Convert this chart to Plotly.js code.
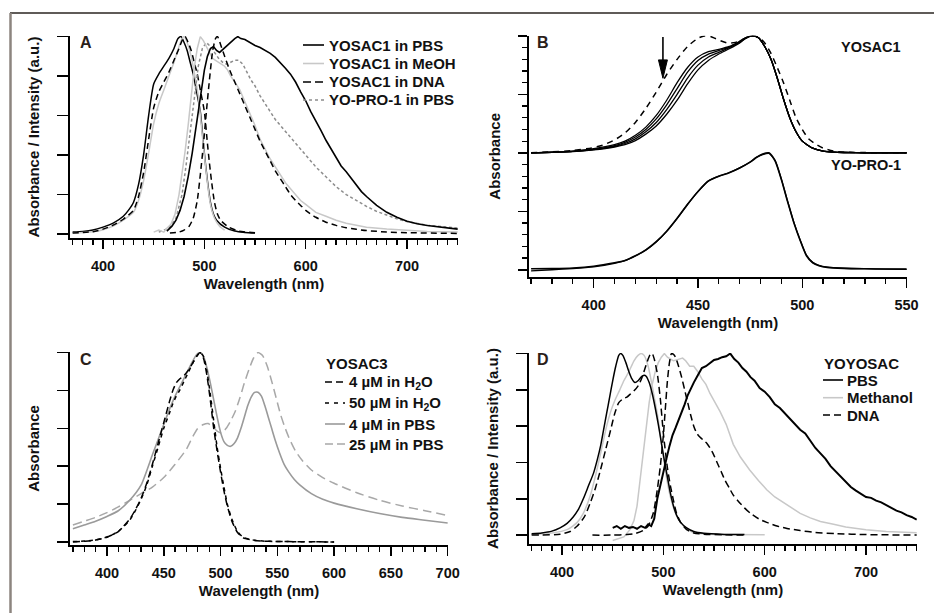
<!DOCTYPE html>
<html><head><meta charset="utf-8">
<script src="https://cdn.plot.ly/plotly-3.0.1.min.js"></script>
<style>html,body{margin:0;padding:0;background:#fff}#chart{width:934px;height:613px}</style>
</head><body><div id="chart"></div>
<script>
// ---------- Panel A ----------
const A_absPBS_wl = [370,380,390,400,410,420,425,430,435,440,445,450,455,460,465,470,474,477,480,483,486,489,492,496,499,501,503,506,509,512,520,530,540,550];
const A_absPBS    = [0.01,0.013,0.02,0.035,0.055,0.09,0.12,0.16,0.25,0.4,0.6,0.76,0.81,0.85,0.89,0.94,0.99,1.0,0.97,0.93,0.87,0.81,0.73,0.62,0.46,0.36,0.27,0.16,0.1,0.07,0.035,0.015,0.008,0.005];
const A_absMeOH_wl = [370,390,400,410,420,430,435,440,445,450,455,460,465,470,475,478,480,483,487,490,494,497,500,503,506,510,515,520];
const A_absMeOH    = [0.005,0.012,0.022,0.04,0.07,0.11,0.17,0.27,0.41,0.56,0.66,0.73,0.8,0.87,0.95,0.99,1.0,0.97,0.9,0.82,0.7,0.55,0.4,0.26,0.15,0.08,0.04,0.02];
const A_absDNA_wl = [370,390,400,410,420,430,435,440,445,450,455,460,465,470,475,478,481,484,487,490,493,496,500,503,505,507,510,513,516,524,534,550];
const A_absDNA    = [0.005,0.012,0.025,0.045,0.075,0.12,0.19,0.31,0.48,0.64,0.72,0.77,0.82,0.88,0.94,0.98,1.0,0.97,0.93,0.87,0.81,0.73,0.62,0.46,0.36,0.27,0.16,0.1,0.07,0.035,0.015,0.006];
const A_emPBS_wl = [463,468,472,476,480,484,488,492,496,500,503,506,509,512,515,518,521,524,527,530,533,536,540,545,550,555,560,565,570,575,580,585,590,595,600,605,610,615,620,625,630,635,640,645,650,655,660,665,670,680,690,700,710,720,730,740,750];
const A_emPBS    = [0.015,0.04,0.07,0.12,0.19,0.29,0.41,0.55,0.7,0.83,0.9,0.94,0.95,0.93,0.92,0.935,0.95,0.965,0.975,0.99,1.0,0.99,0.985,0.97,0.955,0.945,0.93,0.915,0.895,0.87,0.84,0.81,0.77,0.72,0.675,0.62,0.575,0.525,0.475,0.43,0.385,0.345,0.315,0.28,0.245,0.215,0.19,0.165,0.145,0.11,0.085,0.065,0.052,0.043,0.036,0.03,0.025];
const A_emMeOH_wl = [450,455,460,463,467,471,475,478,481,484,487,490,493,496,499,502,505,508,511,514,517,520,523,526,530,535,540,545,550,555,560,565,570,575,580,585,590,595,600,610,620,630,640,650,660,680,700,720,750];
const A_emMeOH    = [0.01,0.02,0.01,0.03,0.05,0.1,0.2,0.3,0.42,0.55,0.7,0.84,0.94,1.0,0.98,0.95,0.92,0.89,0.88,0.87,0.86,0.85,0.83,0.8,0.77,0.73,0.67,0.61,0.55,0.48,0.43,0.38,0.34,0.3,0.26,0.23,0.2,0.17,0.15,0.11,0.09,0.07,0.055,0.045,0.035,0.025,0.018,0.013,0.01];
const A_emDNA_wl = [466,475,480,485,489,493,496,499,502,505,508,511,513,516,520,525,530,535,540,545,550,555,560,565,570,575,580,585,590,595,600,610,620,630,640,650,660,680,700,750];
const A_emDNA    = [0.005,0.01,0.02,0.04,0.08,0.17,0.3,0.45,0.62,0.78,0.92,0.99,1.0,0.96,0.9,0.83,0.77,0.71,0.65,0.59,0.53,0.47,0.42,0.37,0.32,0.28,0.24,0.2,0.17,0.145,0.12,0.085,0.06,0.044,0.032,0.024,0.018,0.01,0.007,0.003];
const A_emYOPRO_wl = [455,465,472,478,482,486,490,494,498,502,506,510,514,518,522,526,530,534,538,542,546,550,555,560,565,570,575,580,585,590,595,600,605,610,620,630,640,650,660,670,680,690,700,720,740,750];
const A_emYOPRO    = [0.01,0.03,0.08,0.2,0.35,0.52,0.7,0.85,0.94,0.97,0.95,0.92,0.89,0.87,0.86,0.87,0.88,0.88,0.86,0.82,0.78,0.75,0.7,0.66,0.62,0.58,0.55,0.52,0.49,0.46,0.43,0.4,0.37,0.34,0.29,0.24,0.2,0.17,0.14,0.115,0.095,0.077,0.063,0.045,0.035,0.03];

// ---------- Panel B (YOSAC1 offset by +1, YO-PRO-1 from 0) ----------
const B_wl = [370,380,390,400,410,415,420,425,430,435,440,445,450,455,460,465,470,473,476,479,482,485,488,491,494,497,500,505,510,515,520,530,550];
const B_yosac1_s1 = [1.0,1.005,1.015,1.035,1.07,1.1,1.15,1.22,1.32,1.45,1.6,1.73,1.82,1.865,1.885,1.91,1.955,1.985,2.0,1.985,1.91,1.8,1.64,1.46,1.3,1.18,1.1,1.04,1.015,1.006,1.003,1.0,1.0];
const B_yosac1_s2 = [1.0,1.005,1.013,1.03,1.062,1.09,1.135,1.2,1.29,1.41,1.55,1.69,1.79,1.845,1.875,1.905,1.95,1.985,2.0,1.985,1.91,1.8,1.64,1.46,1.3,1.18,1.1,1.04,1.015,1.006,1.003,1.0,1.0];
const B_yosac1_s3 = [1.0,1.004,1.012,1.028,1.056,1.08,1.12,1.18,1.26,1.37,1.5,1.64,1.75,1.82,1.86,1.9,1.945,1.98,2.0,1.985,1.91,1.8,1.64,1.46,1.3,1.18,1.1,1.04,1.015,1.006,1.003,1.0,1.0];
const B_yosac1_s4 = [1.0,1.004,1.01,1.025,1.05,1.07,1.105,1.16,1.23,1.33,1.45,1.59,1.71,1.79,1.845,1.89,1.94,1.98,2.0,1.985,1.91,1.8,1.64,1.46,1.3,1.18,1.1,1.04,1.015,1.006,1.003,1.0,1.0];
const B_dash_wl = [370,380,390,400,405,410,415,420,425,430,435,440,445,450,453,456,460,464,468,472,476,479,482,485,488,491,494,497,500,503,506,510,515,520,530,550];
const B_yosac1_dash = [1.0,1.008,1.02,1.045,1.07,1.11,1.17,1.26,1.38,1.52,1.67,1.8,1.91,1.98,2.0,1.995,1.965,1.94,1.945,1.975,2.0,1.99,1.94,1.85,1.73,1.6,1.45,1.3,1.2,1.12,1.08,1.04,1.015,1.006,1.002,1.0];
const B_yopro_wl = [370,380,390,400,410,415,420,425,430,435,440,445,450,455,460,465,470,475,478,481,484,487,490,493,496,499,502,505,508,512,520,530,540,550];
const B_yopro_a = [0.008,0.01,0.015,0.03,0.06,0.08,0.12,0.17,0.24,0.33,0.44,0.56,0.67,0.76,0.8,0.83,0.87,0.92,0.96,0.99,1.0,0.93,0.77,0.58,0.4,0.25,0.12,0.06,0.035,0.02,0.012,0.008,0.006,0.005];
const B_yopro_b = [-0.01,0.0,0.01,0.025,0.055,0.078,0.118,0.168,0.238,0.328,0.438,0.558,0.668,0.758,0.8,0.832,0.872,0.922,0.962,0.985,0.995,0.935,0.775,0.585,0.405,0.255,0.125,0.063,0.037,0.022,0.013,0.009,0.006,0.003];

// ---------- Panel C ----------
const C_h2o4_wl = [370,380,390,400,410,420,425,430,435,440,445,450,455,458,461,464,468,472,476,479,482,485,488,491,494,497,500,503,506,510,515,520,530,540,560,580,600];
const C_h2o4    = [0.0,0.004,0.01,0.025,0.055,0.12,0.17,0.23,0.31,0.41,0.52,0.63,0.74,0.8,0.84,0.86,0.88,0.91,0.95,0.98,1.0,0.97,0.88,0.75,0.6,0.48,0.37,0.27,0.19,0.11,0.05,0.022,0.008,0.004,0.002,0.001,0.0];
const C_h2o50_wl = [370,380,390,400,410,420,425,430,435,440,445,450,455,458,461,464,468,472,476,479,482,485,488,491,494,497,500,503,506,510,515,520,530,540,560,580,600];
const C_h2o50    = [0.002,0.005,0.011,0.026,0.056,0.115,0.165,0.225,0.3,0.4,0.5,0.6,0.68,0.73,0.77,0.8,0.85,0.9,0.95,0.98,1.0,0.98,0.9,0.78,0.64,0.5,0.39,0.29,0.2,0.12,0.055,0.025,0.009,0.004,0.002,0.001,0.0];
const C_pbs4_wl = [370,380,390,400,410,420,430,440,445,450,455,460,465,470,475,479,482,485,488,491,494,497,500,503,506,509,512,515,518,521,524,527,530,533,536,539,542,545,548,552,556,560,565,570,580,590,600,620,640,660,680,700];
const C_pbs4    = [0.07,0.09,0.11,0.135,0.165,0.22,0.3,0.46,0.54,0.62,0.7,0.77,0.83,0.89,0.95,0.99,1.0,0.98,0.92,0.84,0.75,0.66,0.58,0.53,0.51,0.505,0.52,0.55,0.6,0.66,0.72,0.765,0.79,0.79,0.77,0.72,0.66,0.6,0.54,0.47,0.41,0.37,0.33,0.3,0.255,0.225,0.205,0.175,0.15,0.13,0.115,0.1];
const C_pbs25_wl = [370,380,390,400,410,420,430,440,450,460,470,475,480,485,489,493,497,501,505,509,513,517,521,525,529,533,537,541,545,549,553,557,561,566,572,580,590,600,620,640,660,680,700];
const C_pbs25    = [0.09,0.11,0.13,0.155,0.185,0.22,0.255,0.29,0.34,0.41,0.49,0.55,0.6,0.62,0.625,0.61,0.585,0.575,0.6,0.64,0.69,0.76,0.84,0.91,0.97,1.0,0.985,0.93,0.85,0.76,0.67,0.6,0.54,0.48,0.43,0.38,0.34,0.31,0.26,0.22,0.19,0.165,0.14];

// ---------- Panel D ----------
const D_absPBS_wl = [370,380,390,398,405,411,416,421,426,431,435,438,441,444,447,450,453,456,458,460,463,466,469,472,475,478,481,483,486,489,492,495,498,501,504,507,510,513,517,523,530,540,560,580];
const D_absPBS    = [0.007,0.012,0.022,0.04,0.065,0.1,0.14,0.2,0.27,0.34,0.42,0.49,0.58,0.67,0.76,0.85,0.93,0.99,1.0,0.99,0.95,0.9,0.86,0.84,0.85,0.87,0.88,0.875,0.84,0.78,0.7,0.61,0.51,0.41,0.32,0.23,0.16,0.11,0.07,0.04,0.02,0.01,0.004,0.003];
const D_absMeOH_wl = [370,390,405,415,421,428,434,440,444,448,452,457,461,466,471,475,478,481,485,488,491,494,497,500,503,507,512,517,523,530,545,560,600];
const D_absMeOH    = [0.005,0.012,0.03,0.07,0.12,0.22,0.35,0.5,0.6,0.68,0.74,0.8,0.85,0.9,0.96,0.99,1.0,0.99,0.93,0.85,0.76,0.67,0.55,0.43,0.32,0.21,0.12,0.07,0.035,0.013,0.005,0.003,0.002];
const D_absDNA_wl = [370,398,408,415,422,428,433,438,443,448,452,456,460,464,468,472,476,479,482,485,487,489,491,494,497,500,504,507,510,513,517,523,530,540,560,580];
const D_absDNA    = [0.0,0.005,0.02,0.05,0.1,0.18,0.26,0.36,0.47,0.58,0.67,0.73,0.75,0.76,0.78,0.8,0.83,0.87,0.92,0.97,0.995,1.0,0.97,0.89,0.75,0.56,0.37,0.27,0.19,0.12,0.07,0.03,0.012,0.005,0.002,0.0];
const D_emPBS_wl = [450,454,458,462,466,470,474,478,482,485,488,491,494,497,500,503,506,509,512,515,518,521,524,527,530,534,538,542,546,550,554,558,562,566,570,574,578,582,586,590,595,600,605,610,615,620,625,630,635,640,645,650,655,660,665,670,675,680,685,690,695,700,705,710,715,720,725,730,735,740,745,750];
const D_emPBS    = [0.04,0.05,0.035,0.05,0.04,0.045,0.035,0.05,0.04,0.06,0.05,0.09,0.2,0.28,0.34,0.42,0.49,0.55,0.59,0.63,0.68,0.72,0.77,0.81,0.84,0.88,0.92,0.93,0.95,0.965,0.97,0.98,0.985,1.0,0.97,0.95,0.92,0.9,0.87,0.85,0.81,0.79,0.76,0.72,0.7,0.67,0.64,0.61,0.58,0.56,0.52,0.48,0.45,0.42,0.38,0.35,0.32,0.29,0.265,0.245,0.225,0.21,0.205,0.19,0.18,0.165,0.15,0.135,0.125,0.11,0.1,0.085];
const D_emMeOH_wl = [450,455,461,467,471,474,477,480,483,486,489,492,495,498,501,504,507,510,513,516,519,522,526,530,534,538,542,546,550,556,562,569,576,585,594,602,610,618,626,635,645,655,668,680,700,720,750];
const D_emMeOH    = [-0.03,-0.02,-0.01,0.03,0.08,0.16,0.3,0.45,0.6,0.73,0.83,0.9,0.95,0.98,1.0,0.98,0.97,0.96,0.965,0.97,0.975,0.96,0.93,0.93,0.9,0.86,0.83,0.78,0.74,0.68,0.61,0.5,0.43,0.36,0.3,0.25,0.21,0.18,0.15,0.12,0.095,0.075,0.06,0.045,0.03,0.02,0.013];
const D_emDNA_wl = [430,450,464,472,480,485,490,494,497,500,502,504,506,508,510,512,515,518,521,524,527,530,533,536,540,543,546,549,553,557,561,565,569,575,580,586,594,602,612,622,635,650,670,700,750];
const D_emDNA    = [0.0,0.0,0.003,0.008,0.025,0.05,0.12,0.25,0.38,0.55,0.7,0.85,0.95,1.0,0.995,0.98,0.93,0.87,0.8,0.73,0.66,0.6,0.56,0.54,0.52,0.505,0.48,0.45,0.4,0.35,0.3,0.26,0.22,0.18,0.15,0.12,0.09,0.07,0.05,0.037,0.025,0.015,0.008,0.003,0.0];

// ---------- labels ----------
const legendA = ['YOSAC1 in PBS','YOSAC1 in MeOH','YOSAC1 in DNA','YO-PRO-1 in PBS'];
const legendCTitle = 'YOSAC3';
const legendC = ['4 µM in H<sub>2</sub>O','50 µM in H<sub>2</sub>O','4 µM in PBS','25 µM in PBS'];
const legendDTitle = 'YOYOSAC';
const legendD = ['PBS','Methanol','DNA'];
const panelLetters = ['A','B','C','D'];
const panelBLabels = ['YOSAC1','YO-PRO-1'];
const xTitle = 'Wavelength (nm)';
const yTitleAD = 'Absorbance / Intensity (a.u.)';
const yTitleBC = 'Absorbance';

const BLACK = '#000000', LGRAY = '#c8c8c8', MGRAY = '#9a9a9a', DGRAY = '#8c8c8c', CGRAY = '#a8a8a8';
const FONT = 'Arial, "Liberation Sans", sans-serif';
const DASH = {A_dna:'6px,4px', A_yopro:'3px,2.5px', B:'6px,5px', C_4:'7px,4px', C_50:'4px,4px', C_25:'9px,5px', D_dna:'7px,4px'};

function tr(x, y, ax, name, color, width, dash, shape) {
  return {type:'scatter', mode:'lines', x:x, y:y, xaxis:'x'+ax, yaxis:'y'+ax, name:name,
    line:{color:color, width:width, dash:dash||'solid', shape:shape||'spline', smoothing:0.6},
    showlegend:false, hoverinfo:'skip'};
}

const traces = [
  // A
  tr(A_absPBS_wl, A_absPBS, '', legendA[0], BLACK, 1.5),
  tr(A_absMeOH_wl, A_absMeOH, '', legendA[1], LGRAY, 1.5),
  tr(A_absDNA_wl, A_absDNA, '', legendA[2], BLACK, 1.5, DASH.A_dna),
  tr(A_emYOPRO_wl, A_emYOPRO, '', legendA[3], DGRAY, 1.5, DASH.A_yopro, 'linear'),
  tr(A_emMeOH_wl, A_emMeOH, '', legendA[1], LGRAY, 1.5, 'solid', 'linear'),
  tr(A_emDNA_wl, A_emDNA, '', legendA[2], BLACK, 1.5, DASH.A_dna),
  tr(A_emPBS_wl, A_emPBS, '', legendA[0], BLACK, 1.6, 'solid', 'linear'),
  // B
  tr(B_wl, B_yosac1_s1, '2', 'YOSAC1', BLACK, 1.3),
  tr(B_wl, B_yosac1_s2, '2', 'YOSAC1', BLACK, 1.3),
  tr(B_wl, B_yosac1_s3, '2', 'YOSAC1', BLACK, 1.3),
  tr(B_wl, B_yosac1_s4, '2', 'YOSAC1', BLACK, 1.3),
  tr(B_dash_wl, B_yosac1_dash, '2', 'YOSAC1', BLACK, 1.5, DASH.B),
  tr(B_yopro_wl, B_yopro_a, '2', 'YO-PRO-1', BLACK, 1.6),
  tr(B_yopro_wl, B_yopro_b, '2', 'YO-PRO-1', BLACK, 1.3),
  // C
  tr(C_pbs25_wl, C_pbs25, '3', legendC[3], CGRAY, 1.5, DASH.C_25),
  tr(C_pbs4_wl, C_pbs4, '3', legendC[2], MGRAY, 1.6),
  tr(C_h2o50_wl, C_h2o50, '3', legendC[1], BLACK, 1.5, DASH.C_50),
  tr(C_h2o4_wl, C_h2o4, '3', legendC[0], BLACK, 1.5, DASH.C_4),
  // D
  tr(D_absMeOH_wl, D_absMeOH, '4', legendD[1], LGRAY, 1.5),
  tr(D_emMeOH_wl, D_emMeOH, '4', legendD[1], LGRAY, 1.5, 'solid', 'linear'),
  tr(D_absDNA_wl, D_absDNA, '4', legendD[2], BLACK, 1.5, DASH.D_dna),
  tr(D_emDNA_wl, D_emDNA, '4', legendD[2], BLACK, 1.5, DASH.D_dna),
  tr(D_absPBS_wl, D_absPBS, '4', legendD[0], BLACK, 1.5),
  tr(D_emPBS_wl, D_emPBS, '4', legendD[0], BLACK, 2, 'solid', 'linear'),
];

const W = 934, H = 613;
const px = v => v / W, py = v => 1 - v / H;
const TXT = (size) => ({size:size, family:FONT, color:'#111', weight:'bold'});

function xax(x0, x1, yAnchor, range, dtick) {
  return {
    domain:[px(x0), px(x1)], anchor:yAnchor, range:range, dtick:dtick, tick0:0,
    showgrid:false, zeroline:false, showline:true, linecolor:'#000', linewidth:1.6,
    ticks:'outside', ticklen:9, tickwidth:1.5, tickcolor:'#000',
    minor:{dtick:10, ticklen:5, tickwidth:1.3, tickcolor:'#000', ticks:'outside', showgrid:false},
    tickfont:TXT(14.5), ticklabelstandoff:5,
    title:{text:xTitle, font:TXT(15), standoff:5},
    fixedrange:true
  };
}
function yax(y0, y1, xAnchor, range, title, extra) {
  return Object.assign({
    domain:[py(y1), py(y0)], anchor:xAnchor, range:range,
    tickmode:'array', tickvals:[0,0.2,0.4,0.6,0.8,1.0],
    showticklabels:false, showgrid:false, zeroline:false, showline:true, linecolor:'#000', linewidth:1.6,
    ticks:'outside', ticklen:11, tickwidth:1.5, tickcolor:'#000',
    title:{text:title, font:TXT(15), standoff:14},
    fixedrange:true
  }, extra||{});
}

// manual legends: [sample x0, x1, text x, rows y], entries
function legendBlock(x0, x1, tx, rows, names, styles, titleText, titleY) {
  const shapes = [], anns = [];
  names.forEach((n, i) => {
    shapes.push({type:'line', xref:'paper', yref:'paper', x0:px(x0), x1:px(x1), y0:py(rows[i]), y1:py(rows[i]),
                 line:{color:styles[i].color, width:styles[i].width, dash:styles[i].dash}});
    anns.push({text:n, xref:'paper', yref:'paper', x:px(tx), y:py(rows[i]), xanchor:'left', yanchor:'middle',
               showarrow:false, font:TXT(15)});
  });
  if (titleText) anns.push({text:titleText, xref:'paper', yref:'paper', x:px(x0 - 1), y:py(titleY), xanchor:'left', yanchor:'middle', showarrow:false, font:TXT(15)});
  return {shapes, anns};
}
const legA = legendBlock(303, 324, 327, [45, 63.5, 82, 100], legendA,
  [{color:BLACK,width:1.6,dash:'solid'},{color:LGRAY,width:1.6,dash:'solid'},{color:BLACK,width:1.6,dash:'8px,4px'},{color:DGRAY,width:1.6,dash:'3px,3px'}]);
const legC = legendBlock(325, 345, 347, [382, 403, 424, 444], legendC,
  [{color:BLACK,width:1.6,dash:'7px,4px'},{color:BLACK,width:1.6,dash:'4px,5px'},{color:MGRAY,width:1.6,dash:'solid'},{color:CGRAY,width:1.6,dash:'8px,4px'}],
  legendCTitle, 363);
const legD = legendBlock(823, 843, 845, [380, 397.7, 415], legendD,
  [{color:BLACK,width:1.6,dash:'solid'},{color:LGRAY,width:1.6,dash:'solid'},{color:BLACK,width:1.6,dash:'7px,4px'}],
  legendDTitle, 363);

const layout = {
  width:W, height:H, margin:{l:0,r:0,t:0,b:0}, paper_bgcolor:'#fff', plot_bgcolor:'rgba(0,0,0,0)',
  font:{family:FONT, size:14, color:'#111', weight:'bold'},
  showlegend:false,
  xaxis: xax(70, 458, 'y', [367.4, 750.3], 100),
  yaxis: yax(36, 238, 'x', [-0.02, 1.003], yTitleAD),
  xaxis2: xax(529, 907, 'y2', [369.0, 550.2], 50),
  yaxis2: yax(35.7, 277, 'x2', [-0.062, 2.002], yTitleBC, {tickmode:'linear', tick0:0, dtick:0.5, ticklen:9,
           minor:{dtick:0.1, ticklen:5, tickwidth:1.3, tickcolor:'#000', ticks:'outside', showgrid:false}}),
  xaxis3: xax(70, 448, 'y3', [367.45, 700.3], 50),
  yaxis3: yax(352, 545, 'x3', [-0.016, 1.003], yTitleBC),
  xaxis4: xax(529, 917, 'y4', [367.4, 750.3], 100),
  yaxis4: yax(353, 544, 'x4', [-0.049, 1.003], yTitleAD),
  shapes: [
    {type:'line', xref:'paper', yref:'paper', x0:px(10), x1:1, y0:py(13), y1:py(13), line:{color:'#2a2421', width:1.5}},
    {type:'line', xref:'paper', yref:'paper', x0:px(10.5), x1:px(10.5), y0:py(13), y1:0, line:{color:'#8c857f', width:2.5}},
    // arrow in panel B
    {type:'line', xref:'x2', yref:'y2', x0:433.2, x1:433.2, y0:1.99, y1:1.76, line:{color:'#000', width:1.6}},
    {type:'path', xref:'x2', yref:'y2', path:'M 431.05,1.795 L 435.35,1.795 L 433.2,1.638 Z', fillcolor:'#000', line:{color:'#000', width:1}}
  ].concat(legA.shapes, legC.shapes, legD.shapes),
  annotations: [
    {text:panelLetters[0], xref:'paper', yref:'paper', x:px(78), y:py(42), xanchor:'left', yanchor:'middle', showarrow:false, font:{size:16, family:FONT, color:'#2a2018', weight:'bold'}},
    {text:panelLetters[1], xref:'paper', yref:'paper', x:px(535), y:py(42), xanchor:'left', yanchor:'middle', showarrow:false, font:{size:16, family:FONT, color:'#2a2018', weight:'bold'}},
    {text:panelLetters[2], xref:'paper', yref:'paper', x:px(78), y:py(359), xanchor:'left', yanchor:'middle', showarrow:false, font:{size:16, family:FONT, color:'#2a2018', weight:'bold'}},
    {text:panelLetters[3], xref:'paper', yref:'paper', x:px(535), y:py(359), xanchor:'left', yanchor:'middle', showarrow:false, font:{size:16, family:FONT, color:'#2a2018', weight:'bold'}},
    {text:panelBLabels[0], xref:'paper', yref:'paper', x:px(903), y:py(47), xanchor:'right', yanchor:'middle', showarrow:false, font:TXT(14.5)},
    {text:panelBLabels[1], xref:'paper', yref:'paper', x:px(903), y:py(165), xanchor:'right', yanchor:'middle', showarrow:false, font:TXT(14.5)}
  ].concat(legA.anns, legC.anns, legD.anns)
};

Plotly.newPlot('chart', traces, layout, {staticPlot:true, displayModeBar:false});
</script>
</body></html>
